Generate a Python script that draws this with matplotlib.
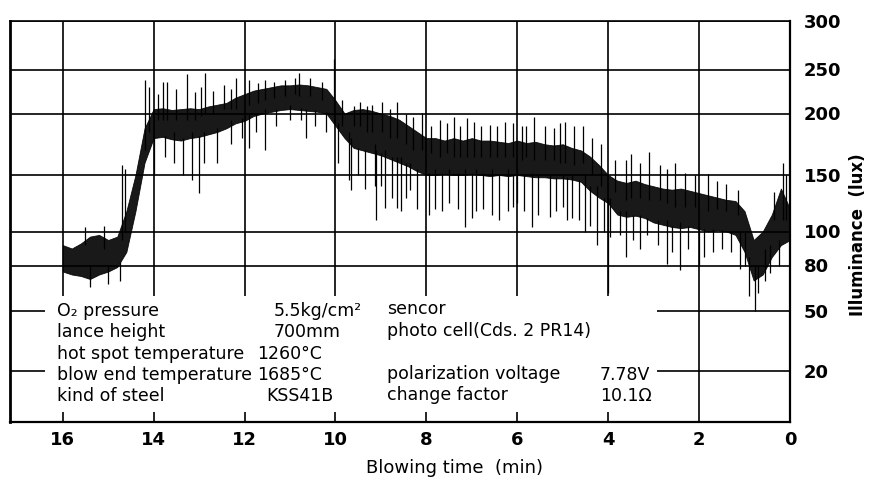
import numpy as np
import matplotlib
matplotlib.use("Agg")
import matplotlib.pyplot as plt
from matplotlib.patches import Rectangle

# Blowing time (min) and the dense band of the illuminance trace (lux)
time_min = [16.0, 15.8, 15.6, 15.4, 15.2, 15.0, 14.8, 14.6, 14.4, 14.2,
            14.0, 13.8, 13.6, 13.4, 13.2, 13.0, 12.8, 12.6, 12.4, 12.2,
            12.0, 11.8, 11.6, 11.4, 11.2, 11.0, 10.8, 10.6, 10.4, 10.2,
            10.0, 9.8, 9.6, 9.4, 9.2, 9.0, 8.8, 8.6, 8.4, 8.2,
            8.0, 7.8, 7.6, 7.4, 7.2, 7.0, 6.8, 6.6, 6.4, 6.2,
            6.0, 5.8, 5.6, 5.4, 5.2, 5.0, 4.8, 4.6, 4.4, 4.2,
            4.0, 3.8, 3.6, 3.4, 3.2, 3.0, 2.8, 2.6, 2.4, 2.2,
            2.0, 1.8, 1.6, 1.4, 1.2, 1.0, 0.8, 0.6, 0.4, 0.2, 0.0]
lux_low = [76, 74, 73, 71, 74, 76, 79, 88, 118, 160,
           180, 181, 179, 178, 180, 181, 183, 185, 188, 192,
           194, 198, 200, 202, 204, 205, 204, 203, 202, 200,
           190, 180, 172, 170, 168, 166, 163, 160, 157, 153,
           150, 150, 151, 150, 150, 151, 150, 149, 150, 149,
           150, 149, 148, 148, 147, 147, 146, 144, 136, 130,
           125, 115, 113, 114, 112, 108, 106, 104, 103, 104,
           102, 100, 101, 100, 98, 88, 70, 74, 85, 92, 95]
lux_high = [92, 90, 93, 97, 98, 95, 97, 118, 150, 188,
            205, 206, 204, 205, 206, 205, 208, 210, 212, 218,
            222, 226, 228, 230, 232, 232, 233, 232, 230, 228,
            215, 200, 204, 205, 203, 200, 198, 195, 190, 185,
            180, 180, 178, 180, 178, 180, 178, 178, 177, 176,
            178, 176, 177, 175, 174, 175, 172, 170, 165, 158,
            150, 145, 143, 145, 142, 140, 138, 137, 138, 136,
            134, 132, 130, 128, 127, 118, 95, 100, 115, 138, 120]

# upward spikes of the recorder trace: time, bottom, top
up_t = [15.5, 15.1, 14.7, 14.62, 14.2, 14.1, 13.9, 13.8, 13.7, 13.5,
        13.27, 13.1, 12.95, 12.87, 12.7, 12.45, 12.3, 12.18, 11.9, 11.7,
        11.55, 11.35, 11.1, 10.9, 10.8, 10.57, 10.3, 10.04, 9.85, 9.6,
        9.45, 9.3, 9.2, 8.97, 8.8, 8.65, 8.45, 8.3, 8.1, 7.9,
        7.7, 7.55, 7.4, 7.25, 7.1, 6.95, 6.8, 6.6, 6.45, 6.27,
        6.1, 5.9, 5.8, 5.63, 5.4, 5.2, 5.05, 4.94, 4.75, 4.55,
        4.35, 4.15, 3.85, 3.6, 3.49, 3.3, 3.1, 2.85, 2.7, 2.53,
        2.3, 2.1, 1.8, 1.6, 1.4, 1.15, 0.35, 0.15, 0.08]
up_lo = [92, 90, 95, 100, 170, 185, 195, 195, 195, 195,
         195, 195, 198, 200, 200, 205, 205, 205, 210, 212,
         215, 218, 220, 222, 220, 220, 215, 200, 190, 190,
         190, 185, 185, 185, 180, 180, 175, 170, 170, 168,
         165, 168, 165, 165, 165, 165, 165, 165, 165, 165,
         165, 162, 165, 162, 162, 162, 160, 160, 158, 160,
         150, 140, 135, 128, 130, 130, 128, 128, 125, 122,
         122, 122, 118, 120, 118, 115, 110, 110, 110]
up_hi = [104, 105, 158, 155, 238, 230, 222, 236, 236, 228,
         245, 225, 230, 246, 226, 232, 228, 240, 238, 235,
         238, 236, 238, 240, 246, 240, 236, 261, 215, 208,
         213, 208, 210, 213, 205, 213, 200, 197, 201, 190,
         195, 192, 197, 190, 196, 193, 190, 191, 190, 193,
         192, 190, 190, 197, 190, 188, 192, 193, 190, 190,
         180, 175, 162, 162, 167, 160, 169, 158, 155, 160,
         152, 150, 151, 145, 142, 137, 135, 160, 150]

# downward spikes: time, bottom, top
down_t = [15.4, 15.0, 14.75, 14.0, 13.75, 13.55, 13.35, 13.15, 13.0, 12.9,
          12.6, 12.3, 12.05, 11.9, 11.75, 11.55, 11.3, 11.0, 10.75, 10.65,
          10.45, 10.2, 9.95, 9.7, 9.65, 9.5, 9.35, 9.13, 9.1, 9.0,
          8.9, 8.75, 8.65, 8.55, 8.45, 8.37, 8.2, 7.95, 7.8, 7.65,
          7.5, 7.3, 7.15, 7.0, 6.9, 6.75, 6.55, 6.4, 6.2, 6.1,
          6.0, 5.85, 5.67, 5.55, 5.28, 5.15, 5.0, 4.9, 4.8, 4.65,
          4.5, 4.4, 4.24, 4.1, 4.0, 3.97, 3.75, 3.6, 3.45, 3.3,
          3.15, 2.9, 2.7, 2.6, 2.42, 2.25, 2.0, 1.9, 1.7, 1.5,
          1.3, 1.1, 0.99, 0.9, 0.77, 0.7, 0.55, 0.45, 0.25]
down_lo = [66, 68, 70, 150, 165, 160, 150, 146, 134, 160,
           160, 175, 180, 172, 185, 170, 190, 195, 195, 180,
           190, 185, 160, 146, 137, 150, 138, 140, 110, 140,
           121, 130, 121, 118, 130, 137, 120, 115, 120, 118,
           125, 120, 104, 112, 118, 120, 115, 110, 118, 122,
           125, 118, 104, 115, 113, 118, 122, 110, 112, 110,
           100, 105, 92, 100, 62, 97, 98, 85, 95, 90,
           98, 92, 81, 88, 77, 90, 80, 85, 88, 90,
           88, 78, 80, 60, 50, 62, 70, 75, 80]
down_hi = [80, 80, 82, 182, 182, 185, 180, 185, 182, 185,
           188, 195, 196, 200, 200, 205, 205, 210, 206, 205,
           204, 202, 192, 185, 180, 172, 170, 175, 170, 168,
           170, 165, 165, 165, 160, 160, 155, 152, 155, 152,
           155, 152, 155, 152, 155, 152, 155, 150, 155, 150,
           155, 150, 152, 150, 150, 148, 150, 148, 150, 146,
           150, 140, 140, 130, 130, 130, 118, 118, 115, 115,
           112, 110, 110, 105, 108, 105, 105, 102, 102, 101,
           100, 100, 100, 85, 80, 80, 90, 92, 95]

x_ticks = [16, 14, 12, 10, 8, 6, 4, 2, 0]
y_ticks = [20, 50, 80, 100, 150, 200, 250, 300]

# the printed lux scale is drawn by hand: anchor values and their heights
scale_val = [0, 20, 50, 80, 100, 150, 200, 250, 300]
scale_pos = [0, 50.7, 111.2, 156.2, 190.2, 246.7, 308.2, 352.2, 400.7]


def fwd(v):
    return np.interp(v, scale_val, scale_pos)


def inv(h):
    return np.interp(h, scale_pos, scale_val)


plt.rcParams['font.family'] = ['DejaVu Sans']
fig = plt.figure(figsize=(8.71, 4.93), dpi=100)
ax = fig.add_axes([10 / 871, 1 - 421.7 / 493, 780 / 871, 400.7 / 493])

ax.set_yscale('function', functions=(fwd, inv))
ax.set_ylim(0, 300)
ax.set_xlim(17.16, 0)

# trace
ax.fill_between(time_min, lux_low, lux_high, color='black', lw=0.6,
                edgecolor='black', alpha=0.9, zorder=1.8)
ax.vlines(up_t, up_lo, up_hi, color='black', lw=0.9, zorder=1.8)
ax.vlines(down_t, down_lo, down_hi, color='black', lw=0.9, zorder=1.8)

# grid
ax.set_xticks(x_ticks)
ax.set_yticks(y_ticks)
ax.grid(True, color='black', lw=1.2)
ax.tick_params(length=0)
ax.yaxis.tick_right()
ax.tick_params(axis='y', pad=10)
ax.tick_params(axis='x', pad=7)
for lab in ax.get_xticklabels() + ax.get_yticklabels():
    lab.set_fontweight('bold')
    lab.set_fontsize(13)
    lab.set_family(['Liberation Sans Narrow', 'DejaVu Sans'])

for side, w in [('left', 2.0), ('bottom', 1.6), ('right', 1.6), ('top', 1.2)]:
    ax.spines[side].set_linewidth(w)
    ax.spines[side].set_color('black')

# white box for the measuring conditions
ax.add_patch(Rectangle((0.045, 0.024), 0.785, 0.29, transform=ax.transAxes,
                       facecolor='white', edgecolor='none', zorder=2))

fs = 12.5
rows = [311, 332, 354, 375, 396]


def put(xp, yp, s):
    fig.text(xp / 871, 1 - yp / 493, s, fontsize=fs, va='center', ha='left')


put(57, rows[0], 'O₂ pressure')
put(57, rows[1], 'lance height')
put(57, rows[2], 'hot spot temperature')
put(57, rows[3], 'blow end temperature')
put(57, rows[4], 'kind of steel')
put(274, rows[0], '5.5kg/cm²')
put(274, rows[1], '700mm')
put(257, rows[2], '1260°C')
put(257, rows[3], '1685°C')
put(266, rows[4], 'KSS41B')
put(387, rows[0] - 2, 'sencor')
put(387, rows[1] - 1, 'photo cell(Cds. 2 PR14)')
put(387, rows[3] - 1, 'polarization voltage')
put(387, rows[4] - 1, 'change factor')
put(600, rows[3], '7.78V')
put(600, rows[4], '10.1Ω')

fig.text(455 / 871, 1 - 468 / 493, 'Blowing time  (min)', fontsize=13,
         ha='center', va='center')
fig.text(858 / 871, 1 - 235 / 493, 'Illuminance  (lux)', fontsize=12,
         fontweight='bold', rotation=90, ha='center', va='center')

fig.savefig('out.png', dpi=100)
